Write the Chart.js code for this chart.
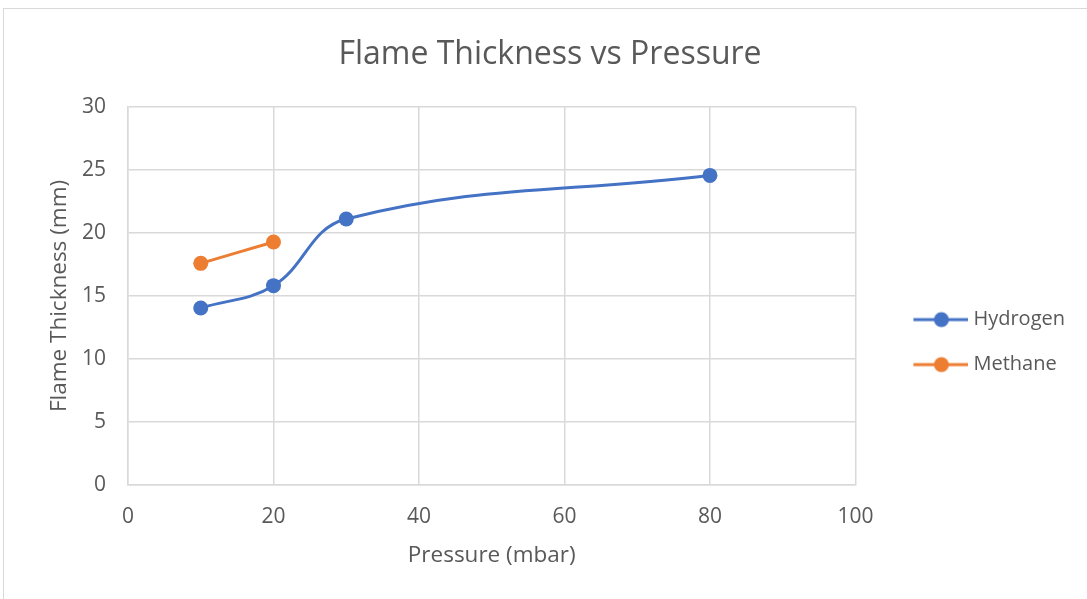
<!DOCTYPE html>
<html>
<head>
<meta charset="utf-8">
<script src="https://cdn.jsdelivr.net/npm/chart.js@4/dist/chart.umd.min.js"></script>
<style>
  html, body { margin: 0; padding: 0; background: #fff; }
  #wrap { width: 1087px; height: 599px; }
</style>
</head>
<body>
<div id="wrap"><canvas id="flameChart"></canvas></div>
<script>
// values
const h2Pressure = [10, 20, 30, 80];
const h2Thickness = [14.05, 15.82, 21.11, 24.57];
const ch4Pressure = [10, 20];
const ch4Thickness = [17.59, 19.29];
const xTicks = [0, 20, 40, 60, 80, 100];
const yTicks = [0, 5, 10, 15, 20, 25, 30];

const TEXT = '#595959';
const GRID = '#d9d9d9';
const FONT = "'Open Sans', sans-serif";

function toPoints(xs, ys) {
    return xs.map((x, i) => ({ x: x, y: ys[i] }));
}

// little line-with-dot marker for the legend
function legendMarker(color) {
    const c = document.createElement('canvas');
    c.width = 93;
    c.height = 18;
    const g = c.getContext('2d');
    g.strokeStyle = color;
    g.lineWidth = 3;
    g.beginPath();
    g.moveTo(38, 9);
    g.lineTo(93, 9);
    g.stroke();
    g.fillStyle = color;
    g.beginPath();
    g.arc(66, 9, 7.5, 0, Math.PI * 2);
    g.fill();
    return c;
}

const frame = {
    id: 'frame',
    beforeDraw(chart) {
        const ctx = chart.ctx;
        ctx.save();
        ctx.fillStyle = '#fff';
        ctx.fillRect(0, 0, chart.width, chart.height);
        ctx.strokeStyle = GRID;
        ctx.lineWidth = 1;
        ctx.strokeRect(3.5, 8.5, chart.width + 10, chart.height + 10);
        ctx.restore();
    }
};

const series = [
    { label: 'Hydrogen', color: '#4472C4', data: toPoints(h2Pressure, h2Thickness) },
    { label: 'Methane', color: '#ED7D31', data: toPoints(ch4Pressure, ch4Thickness) }
];

new Chart(document.getElementById('flameChart'), {
    type: 'scatter',
    data: {
        datasets: series.map(s => ({
            label: s.label,
            data: s.data,
            showLine: true,
            borderColor: s.color,
            backgroundColor: s.color,
            borderWidth: 3,
            pointRadius: 7.5,
            pointHoverRadius: 7.5,
            pointBorderWidth: 0,
            tension: 0.4
        }))
    },
    options: {
        responsive: true,
        maintainAspectRatio: false,
        animation: false,
        layout: { padding: { top: 8, left: 25, right: 12, bottom: 30 } },
        plugins: {
            title: {
                display: true,
                text: 'Flame Thickness vs Pressure',
                color: TEXT,
                font: { family: FONT, size: 32, weight: 'normal' },
                padding: { top: 28, bottom: 32.6 }
            },
            legend: {
                position: 'right',
                title: { display: true, text: ' ', font: { size: 1 }, padding: { top: 106, bottom: 0 } },
                labels: {
                    usePointStyle: true,
                    pointStyleWidth: 83,
                    color: TEXT,
                    padding: 25,
                    font: { family: FONT, size: 20 },
                    generateLabels(chart) {
                        const items = Chart.defaults.plugins.legend.labels.generateLabels(chart);
                        items.forEach((it, i) => { it.pointStyle = legendMarker(series[i].color); });
                        return items;
                    }
                }
            },
            tooltip: { enabled: false }
        },
        scales: {
            x: {
                type: 'linear',
                min: 0,
                max: 100,
                afterBuildTicks: axis => { axis.ticks = xTicks.map(v => ({ value: v })); },
                afterFit: axis => { axis.height = 84; },
                grid: { color: GRID, lineWidth: 1.5, drawTicks: false },
                border: { color: GRID, width: 1.5 },
                ticks: { color: TEXT, padding: 19, font: { family: FONT, size: 21 } },
                title: {
                    display: true,
                    text: 'Pressure (mbar)',
                    color: TEXT,
                    font: { family: FONT, size: 22.5 },
                    padding: { top: 0, bottom: 0 }
                }
            },
            y: {
                min: 0,
                max: 30,
                afterBuildTicks: axis => { axis.ticks = yTicks.map(v => ({ value: v })); },
                afterFit: axis => { axis.width = 103; },
                grid: { color: GRID, lineWidth: 1.5, drawTicks: false },
                border: { color: GRID, width: 1.5 },
                ticks: { color: TEXT, padding: 22, font: { family: FONT, size: 21 } },
                title: {
                    display: true,
                    text: 'Flame Thickness (mm)',
                    color: TEXT,
                    font: { family: FONT, size: 22.5 },
                    padding: { top: 21.5, bottom: 0 }
                }
            }
        }
    },
    plugins: [frame]
});
</script>
</body>
</html>
